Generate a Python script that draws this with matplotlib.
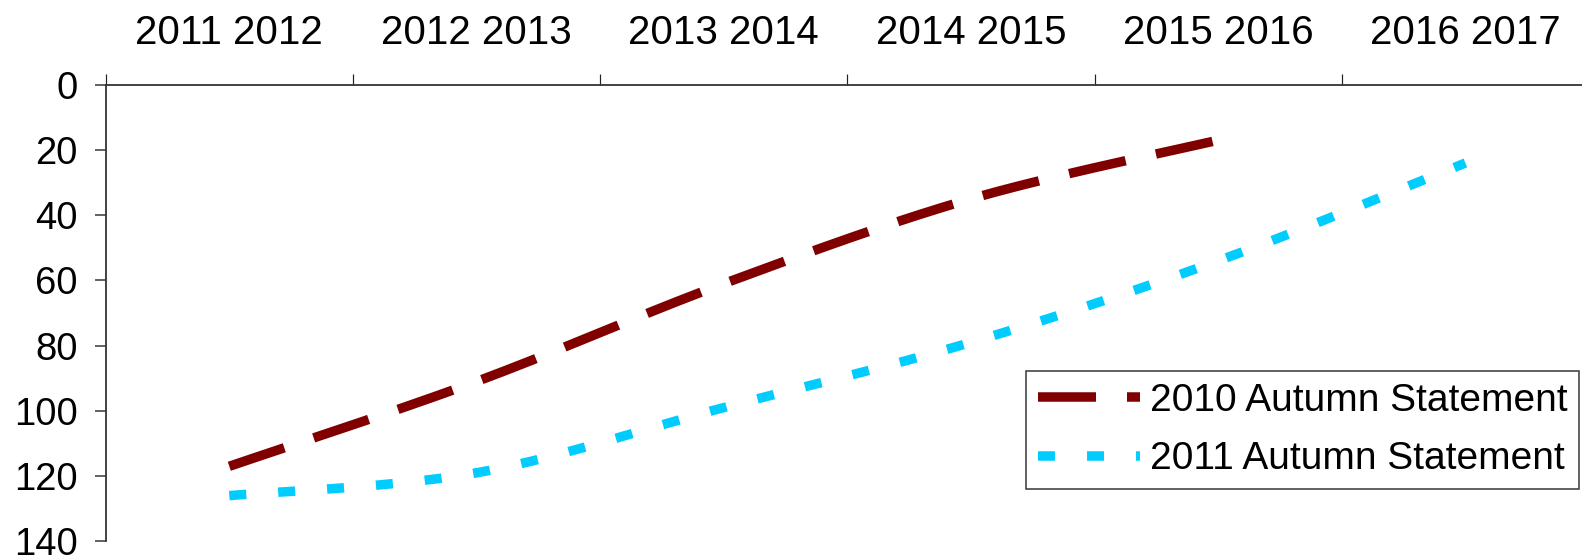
import numpy as np
import matplotlib
matplotlib.use("Agg")
import matplotlib.pyplot as plt
from matplotlib.ticker import FixedLocator, NullFormatter, FixedFormatter

# ---- data ----
categories = ["2011 2012", "2012 2013", "2013 2014", "2014 2015", "2015 2016", "2016 2017"]
autumn_2010 = [117, 91, 61, 35, 17]
autumn_2011 = [126, 119, 99, 79, 54, 24]
series_labels = ["2010 Autumn Statement", "2011 Autumn Statement"]
y_ticks = [0, 20, 40, 60, 80, 100, 120, 140]

plt.rcParams["font.family"] = ["Liberation Sans", "DejaVu Sans"]
plt.rcParams["lines.scale_dashes"] = False

DPI = 100
PT = 72.0 / DPI  # points per pixel


def smooth(xs, ys, n=60):
    """Catmull-Rom style smoothed curve through the given points (Excel-like)."""
    xs = np.asarray(xs, float)
    ys = np.asarray(ys, float)
    P = np.column_stack([xs, ys])
    out = [P[0]]
    m = len(P)
    for i in range(m - 1):
        p0 = P[i - 1] if i > 0 else P[i]
        p1 = P[i]
        p2 = P[i + 1]
        p3 = P[i + 2] if i + 2 < m else P[i + 1]
        c1 = p1 + (p2 - p0) / 6.0
        c2 = p2 - (p3 - p1) / 6.0
        t = np.linspace(0, 1, n)[1:, None]
        seg = ((1 - t) ** 3) * p1 + 3 * ((1 - t) ** 2) * t * c1 + 3 * (1 - t) * t ** 2 * c2 + t ** 3 * p2
        out.extend(seg)
    out = np.array(out)
    return out[:, 0], out[:, 1]


fig = plt.figure(figsize=(15.82, 5.58), dpi=DPI)
W, H = 1582.0, 558.0
left, right, top, bottom = 105.7, 1589.0, 84.7, 541.3
ax = fig.add_axes([left / W, 1 - bottom / H, (right - left) / W, (bottom - top) / H])

lw = 9.5 * PT
x1 = np.arange(len(autumn_2010))
x2 = np.arange(len(autumn_2011))
sx1, sy1 = smooth(x1, autumn_2010)
sx2, sy2 = smooth(x2, autumn_2011)

ax.plot(sx1, sy1, color="#800000", lw=lw, dashes=(58 * PT, 31 * PT),
        dash_capstyle="butt", solid_capstyle="butt", label=series_labels[0])
ax.plot(sx2, sy2, color="#00CCFF", lw=lw, dashes=(17 * PT, 32 * PT),
        dash_capstyle="butt", solid_capstyle="butt", label=series_labels[1])

ax.set_xlim(-0.5, len(categories) - 0.5)
ax.set_ylim(140, 0)

for s in ["right", "bottom"]:
    ax.spines[s].set_visible(False)
for s in ["left", "top"]:
    ax.spines[s].set_linewidth(1.8 * PT)
    ax.spines[s].set_color("#333333")

# x axis on top: boundary ticks, labels at category centres
ax.xaxis.set_ticks_position("top")
ax.xaxis.set_major_locator(FixedLocator(np.arange(len(categories) + 1) - 0.5))
ax.xaxis.set_major_formatter(NullFormatter())
ax.xaxis.set_minor_locator(FixedLocator(np.arange(len(categories))))
ax.xaxis.set_minor_formatter(FixedFormatter(categories))
ax.tick_params(axis="x", which="major", direction="out", length=11 * PT, width=1.2 * PT,
               color="#222222", top=True, bottom=False)
ax.tick_params(axis="x", which="minor", length=0, top=True, bottom=False,
               labeltop=True, labelbottom=False, labelsize=29, pad=33 * PT)

ax.set_yticks(y_ticks)
ax.set_yticklabels([str(v) for v in y_ticks])
ax.tick_params(axis="y", direction="out", length=11 * PT, width=1.5 * PT, color="#333333",
               labelsize=27.5, pad=17 * PT)

leg = ax.legend(loc="lower right", bbox_to_anchor=(1579 / W, 1 - 489 / H),
                bbox_transform=fig.transFigure, borderaxespad=0, fontsize=28,
                frameon=True, fancybox=False, handlelength=2.62, handletextpad=0.26,
                labelspacing=0.58, borderpad=0.3)
leg.get_frame().set_edgecolor("#000000")
leg.get_frame().set_linewidth(1.5 * PT)

fig.savefig("out.png", dpi=DPI)
